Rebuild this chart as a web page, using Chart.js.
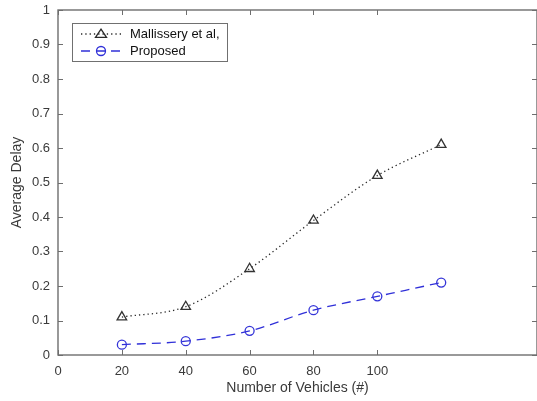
<!DOCTYPE html>
<html>
<head>
<meta charset="utf-8">
<script src="https://cdn.jsdelivr.net/npm/chart.js@4/dist/chart.umd.min.js"></script>
<style>
  html, body { margin: 0; padding: 0; background: #fff; overflow: hidden; }
  #wrap { width: 545px; height: 401px; }
</style>
</head>
<body>
<div id="wrap"><canvas id="chart" width="545" height="401"></canvas></div>
<script>
// dane
const vehicles = [20, 40, 60, 80, 100, 120];
const mallissery = [0.11, 0.14, 0.25, 0.39, 0.52, 0.61];
const proposed = [0.03, 0.04, 0.07, 0.13, 0.17, 0.21];

const xTicks = [0, 20, 40, 60, 80, 100];
const yTicks = [0, 0.1, 0.2, 0.3, 0.4, 0.5, 0.6, 0.7, 0.8, 0.9, 1];

const seriesNames = ["Mallissery et al,", "Proposed"];

const FONT = "'Liberation Sans', Arial, Helvetica, sans-serif";
const AXIS_COLOR = "#6e6e6e";
const TEXT_COLOR = "#3a3a3a";

function toPoints(values) {
    return vehicles.map((v, i) => ({ x: v, y: values[i] }));
}

// ramka osi z kreskami skierowanymi do środka (jak w MATLAB)
const boxPlugin = {
    id: "box",
    afterDraw(chart) {
        const ctx = chart.ctx;
        const a = chart.chartArea;
        const xs = chart.scales.x;
        const ys = chart.scales.y;
        ctx.save();
        ctx.strokeStyle = AXIS_COLOR;
        ctx.lineWidth = 1.4;
        ctx.strokeRect(a.left, a.top, a.right - a.left, a.bottom - a.top);
        ctx.lineWidth = 1;
        ctx.beginPath();
        xTicks.forEach(v => {
            const px = Math.round(xs.getPixelForValue(v)) + 0.5;
            ctx.moveTo(px, a.bottom);
            ctx.lineTo(px, a.bottom - 5);
            ctx.moveTo(px, a.top);
            ctx.lineTo(px, a.top + 5);
        });
        yTicks.forEach(v => {
            const py = Math.round(ys.getPixelForValue(v)) + 0.5;
            ctx.moveTo(a.left, py);
            ctx.lineTo(a.left + 5, py);
            ctx.moveTo(a.right, py);
            ctx.lineTo(a.right - 5, py);
        });
        ctx.stroke();
        ctx.restore();
    }
};

function drawMarker(ctx, style, x, y, r) {
    ctx.beginPath();
    if (style === "triangle") {
        const h = r * 1.5;
        ctx.moveTo(x, y - h * 0.6);
        ctx.lineTo(x + r, y + h * 0.4);
        ctx.lineTo(x - r, y + h * 0.4);
        ctx.closePath();
    } else {
        ctx.arc(x, y, r, 0, Math.PI * 2);
    }
    ctx.stroke();
}

// legenda w lewym górnym rogu
const legendPlugin = {
    id: "boxLegend",
    afterDraw(chart) {
        const ctx = chart.ctx;
        const left = 72, top = 23, w = 155, h = 38;
        ctx.save();
        ctx.fillStyle = "#fff";
        ctx.fillRect(left, top, w, h);
        ctx.strokeStyle = "#707070";
        ctx.lineWidth = 1;
        ctx.strokeRect(left + 0.5, top + 0.5, w, h);
        chart.data.datasets.forEach((ds, i) => {
            const y = top + 11 + i * 17;
            ctx.strokeStyle = ds.borderColor;
            ctx.lineWidth = ds.borderWidth;
            ctx.setLineDash(ds.borderDash);
            ctx.beginPath();
            ctx.moveTo(81, y);
            ctx.lineTo(121, y);
            ctx.stroke();
            ctx.setLineDash([]);
            ctx.lineWidth = ds.pointBorderWidth;
            ctx.fillStyle = "#fff";
            drawMarker(ctx, ds.pointStyle, 101, y, ds.pointRadius);
            ctx.fillStyle = "#111";
            ctx.font = "13px " + FONT;
            ctx.textBaseline = "middle";
            ctx.fillText(ds.label, 130, y);
        });
        ctx.restore();
    }
};

const ctx = document.getElementById("chart").getContext("2d");
const chart = new Chart(ctx, {
    type: "line",
    data: {
        datasets: [
            {
                label: seriesNames[0],
                data: toPoints(mallissery),
                borderColor: "#2a2a2a",
                borderWidth: 1.3,
                borderDash: [1.3, 3],
                pointStyle: "triangle",
                pointRadius: 5.5,
                pointBorderWidth: 1.3,
                pointBorderColor: "#333",
                pointBackgroundColor: "rgba(0,0,0,0)",
                cubicInterpolationMode: "monotone",
                fill: false,
            },
            {
                label: seriesNames[1],
                data: toPoints(proposed),
                borderColor: "#3030d8",
                borderWidth: 1.3,
                borderDash: [9, 6],
                pointStyle: "circle",
                pointRadius: 4.5,
                pointBorderWidth: 1.3,
                pointBorderColor: "#3535d8",
                pointBackgroundColor: "rgba(0,0,0,0)",
                cubicInterpolationMode: "monotone",
                fill: false,
            },
        ],
    },
    options: {
        responsive: false,
        animation: false,
        layout: { padding: { top: 10, right: 8, left: 0, bottom: 0 } },
        plugins: {
            legend: { display: false },
            tooltip: { enabled: false },
        },
        scales: {
            x: {
                type: "linear",
                min: 0,
                max: 150,
                afterBuildTicks: (scale) => {
                    scale.ticks = xTicks.map(v => ({ value: v }));
                },
                afterFit: (scale) => {
                    scale.height = 46;
                    scale.paddingLeft = 0;
                    scale.paddingRight = 0;
                },
                grid: { display: false, drawTicks: false },
                border: { display: false },
                ticks: {
                    color: TEXT_COLOR,
                    font: { family: FONT, size: 13 },
                    padding: 9,
                    maxRotation: 0,
                },
                title: {
                    display: true,
                    text: "Number of Vehicles (#)",
                    color: TEXT_COLOR,
                    font: { family: FONT, size: 14 },
                    padding: { top: 2 },
                },
            },
            y: {
                min: 0,
                max: 1,
                afterBuildTicks: (scale) => {
                    scale.ticks = yTicks.map(v => ({ value: v }));
                },
                afterFit: (scale) => {
                    scale.width = 58;
                    scale.paddingTop = 0;
                    scale.paddingBottom = 0;
                },
                grid: { display: false, drawTicks: false },
                border: { display: false },
                ticks: {
                    color: TEXT_COLOR,
                    font: { family: FONT, size: 13 },
                    padding: 8,
                    callback: (v) => String(Math.round(v * 10) / 10),
                },
                title: {
                    display: true,
                    text: "Average Delay",
                    color: TEXT_COLOR,
                    font: { family: FONT, size: 14 },
                    padding: { top: 9, bottom: 0 },
                },
            },
        },
    },
    plugins: [boxPlugin, legendPlugin],
});
</script>
</body>
</html>
